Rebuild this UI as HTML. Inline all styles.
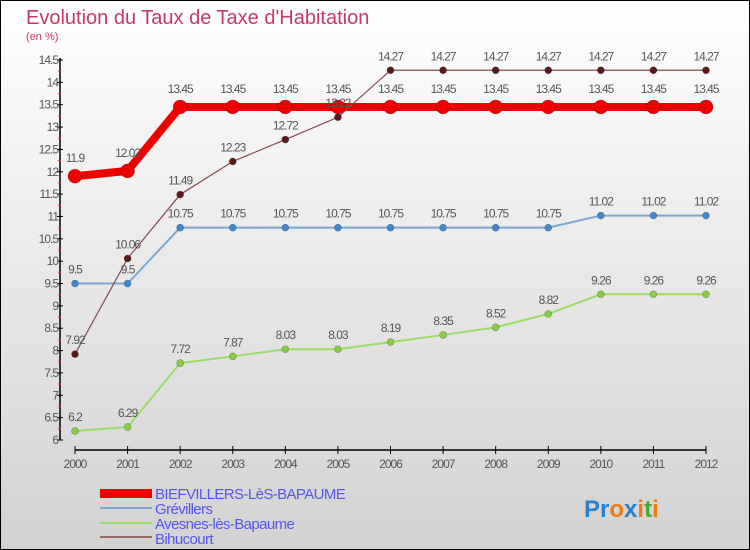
<!DOCTYPE html>
<html><head><meta charset="utf-8"><style>
body{margin:0}
#wrap{width:750px;height:550px;position:relative;overflow:hidden;font-family:"Liberation Sans",sans-serif}
svg text{font-family:"Liberation Sans",sans-serif}
</style></head><body>
<div id="wrap">
<svg id="c" width="750" height="550">
<defs><linearGradient id="bg" x1="0" y1="0" x2="0" y2="1"><stop offset="0" stop-color="#ffffff"/><stop offset="1" stop-color="#d2d2d2"/></linearGradient></defs>
<rect x="0.5" y="0.5" width="749" height="549" fill="url(#bg)" stroke="#000"/>
<text x="26" y="24" font-size="20" fill="#c8396a">Evolution du Taux de Taxe d'Habitation</text>
<text x="26" y="40" font-size="11" fill="#c8396a">(en %)</text>
<g id="axes"></g><g id="series"></g>
<g>
<rect x="100" y="489" width="52" height="9" fill="#e00"/>
<text x="155" y="499" font-size="15" fill="#5555ee" letter-spacing="-0.6">BIEFVILLERS-LèS-BAPAUME</text>
<line x1="100" y1="508" x2="152" y2="508" stroke="#7ba7d0" stroke-width="2"/>
<text x="155" y="514" font-size="15" fill="#5555ee" letter-spacing="-0.6">Grévillers</text>
<line x1="100" y1="523" x2="152" y2="523" stroke="#99dd66" stroke-width="2"/>
<text x="155" y="529" font-size="15" fill="#5555ee" letter-spacing="-0.6">Avesnes-lès-Bapaume</text>
<line x1="100" y1="537" x2="152" y2="537" stroke="#9a6a6a" stroke-width="2"/>
<text x="155" y="544" font-size="15" fill="#5555ee" letter-spacing="-0.6">Bihucourt</text>
</g>
<text x="584" y="517" font-size="24" font-weight="bold"><tspan fill="#2a7fd0">Pr</tspan><tspan fill="#f07a10">o</tspan><tspan fill="#2a7fd0">x</tspan><tspan fill="#f07a10">i</tspan><tspan fill="#44aa33">t</tspan><tspan fill="#f07a10">i</tspan></text>
</svg></div>
<script>
const years=[2000,2001,2002,2003,2004,2005,2006,2007,2008,2009,2010,2011,2012];
const yTicks=[6,6.5,7,7.5,8,8.5,9,9.5,10,10.5,11,11.5,12,12.5,13,13.5,14,14.5];
const biefvillers=[11.9,12.02,13.45,13.45,13.45,13.45,13.45,13.45,13.45,13.45,13.45,13.45,13.45];
const grevillers=[9.5,9.5,10.75,10.75,10.75,10.75,10.75,10.75,10.75,10.75,11.02,11.02,11.02];
const avesnes=[6.2,6.29,7.72,7.87,8.03,8.03,8.19,8.35,8.52,8.82,9.26,9.26,9.26];
const bihucourt=[7.92,10.06,11.49,12.23,12.72,13.22,14.27,14.27,14.27,14.27,14.27,14.27,14.27];
const NS="http://www.w3.org/2000/svg";
const xs=i=>75+i*(706-75)/(years.length-1);
const ys=v=>440-(v-6)*(440-60)/8.5;
function mk(tag,at,parent){const e=document.createElementNS(NS,tag);for(const k in at)e.setAttribute(k,at[k]);parent.appendChild(e);return e;}
const ax=document.getElementById('axes');
let l=mk('line',{x1:60,y1:58,x2:60,y2:440,stroke:'#000','stroke-width':1.5},ax);


yTicks.forEach(v=>{const y=ys(v);
 mk('line',{x1:57,y1:y,x2:63,y2:y,stroke:'#000'},ax);
 if(v<14.5)mk('line',{x1:58,y1:ys(v+0.25),x2:61,y2:ys(v+0.25),stroke:'#e33'},ax);
 const t=mk('text',{x:58,y:y+4,'font-size':12,'text-anchor':'end',fill:'#555','letter-spacing':'-1'},ax);t.textContent=v;
 
 });
l=mk('line',{x1:75,y1:450,x2:706,y2:450,stroke:'#000','stroke-width':1.5},ax);


years.forEach((yr,i)=>{const x=xs(i);mk('line',{x1:x,y1:446,x2:x,y2:454,stroke:'#000'},ax);
 const t=mk('text',{x:x,y:468,'font-size':12,'text-anchor':'middle',fill:'#555','letter-spacing':'-1'},ax);t.textContent=yr;
 
 });
const sg=document.getElementById('series');
function series(name,vals,color,w,r,dot){
 const g=mk('g',{},sg);
 
 
 mk('polyline',{points:vals.map((v,i)=>xs(i)+','+ys(v)).join(' '),fill:'none',stroke:color,'stroke-width':w,'stroke-linejoin':'round'},g);
 vals.forEach((v,i)=>{const c=mk('circle',{cx:xs(i),cy:ys(v),r:r,fill:dot,stroke:'rgba(0,0,0,0.3)','stroke-width':0.6},g);
  
  
  const t=mk('text',{x:xs(i),y:ys(v)-10-(r>5?4:0),'font-size':12,'text-anchor':'middle',fill:'#555','letter-spacing':'-1'},g);t.textContent=v;
  
  });
}
series('avesnes',avesnes,'#99dd66',2,3.5,'#88cc44');
series('grevillers',grevillers,'#7ba7d0',2,3.5,'#4488cc');
series('biefvillers',biefvillers,'#ee0000',8,7,'#ee0000');
series('bihucourt',bihucourt,'#8a4a4a',1.2,3.5,'#5a1a1a');
</script>
</body></html>
